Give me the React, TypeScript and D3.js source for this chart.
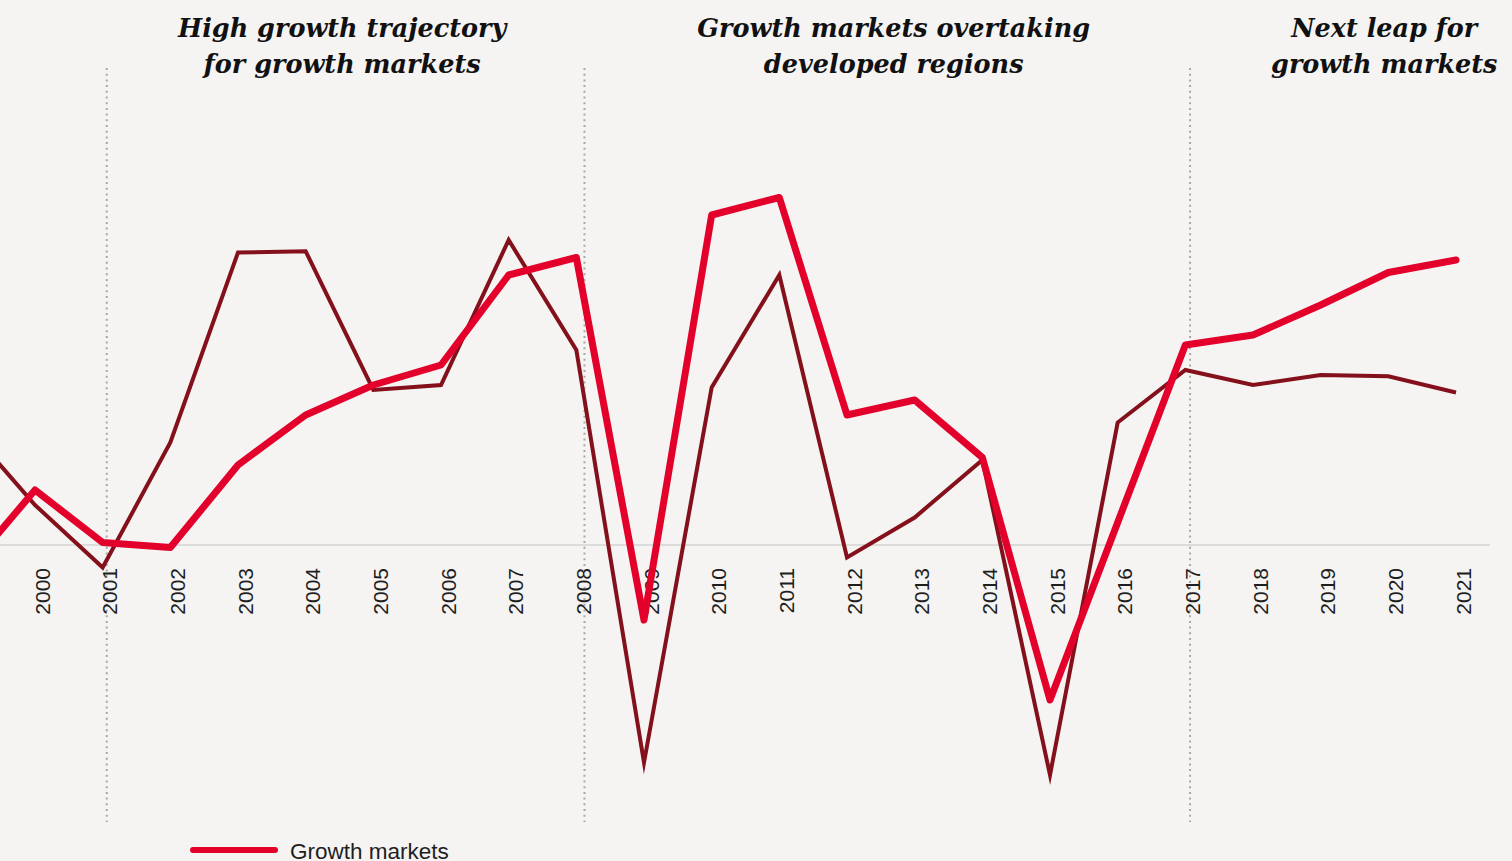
import React from "react";
import * as d3 from "d3";

const years = [1999, 2000, 2001, 2002, 2003, 2004, 2005, 2006, 2007, 2008, 2009, 2010, 2011, 2012, 2013, 2014, 2015, 2016, 2017, 2018, 2019, 2020, 2021];
const growthMarkets = [-1.0, 2.2, 0.1, -0.1, 3.2, 5.2, 6.4, 7.2, 10.8, 11.5, -3.0, 13.2, 13.9, 5.2, 5.8, 3.5, -6.2, 0.9, 8.0, 8.4, 9.6, 10.9, 11.4];
const developedMarkets = [4.7, 1.6, -0.9, 4.1, 11.7, 11.75, 6.2, 6.4, 12.2, 7.8, -8.7, 6.3, 10.8, -0.5, 1.1, 3.4, -9.2, 4.9, 7.0, 6.4, 6.8, 6.75, 6.1];
const tickYears = [2000, 2001, 2002, 2003, 2004, 2005, 2006, 2007, 2008, 2009, 2010, 2011, 2012, 2013, 2014, 2015, 2016, 2017, 2018, 2019, 2020, 2021];
const dividerYears = [2001.06, 2008.12, 2017.07];
const phaseTitles = [
  { center: 2004.54, lines: ["High growth trajectory", "for growth markets"] },
  { center: 2012.69, lines: ["Growth markets overtaking", "developed regions"] },
  { center: 2019.94, lines: ["Next leap for", "growth markets"] },
];
const legendLabels = ["Growth markets"];

const W = 1512;
const H = 861;
const BG = "#f5f4f2";
const RED = "#e3002b";
const DARK = "#84101b";

export default function App() {
  const x = d3.scaleLinear().domain([2000, 2021]).range([35, 1456]);
  const y = d3.scaleLinear().domain([0, 10]).range([545, 295]);

  const line = d3
    .line<number>()
    .x((_, i) => x(years[i]))
    .y((d) => y(d));

  return (
    <div style={{ position: "fixed", left: 0, top: 0, width: W, height: H, background: BG }}>
      <svg width={W} height={H} style={{ display: "block" }}>
        <rect x={0} y={0} width={W} height={H} fill={BG} />
        {/* zero line */}
        <line x1={0} x2={1490} y1={y(0)} y2={y(0)} stroke="#dedcda" strokeWidth={2} />
        {/* dividers */}
        {dividerYears.map((d) => (
          <line
            key={d}
            x1={x(d)}
            x2={x(d)}
            y1={68}
            y2={822}
            stroke="#a9a7a5"
            strokeWidth={2}
            strokeDasharray="2 3.7"
          />
        ))}
        {/* year labels */}
        {tickYears.map((yr) => (
          <text
            key={yr}
            transform={`translate(${x(yr) + 7},${568}) rotate(-90)`}
            textAnchor="end"
            dy="0.36em"
            fontFamily="'Liberation Sans', Arial, sans-serif"
            fontSize={21}
            fill="#1e1e1e"
          >
            {yr}
          </text>
        ))}
        {/* lines */}
        <path
          d={line(developedMarkets) || ""}
          fill="none"
          stroke={DARK}
          strokeWidth={4}
          strokeLinejoin="miter"
          strokeMiterlimit={6}
        />
        <path
          d={line(growthMarkets) || ""}
          fill="none"
          stroke={RED}
          strokeWidth={7}
          strokeLinejoin="round"
          strokeLinecap="round"
        />
        {/* titles */}
        {phaseTitles.map((t) => (
          <text
            key={t.lines[0]}
            x={x(t.center)}
            y={37}
            textAnchor="middle"
            fontFamily="'DejaVu Serif', serif"
            fontStyle="italic"
            fontWeight="bold"
            fontSize={25.5}
            fill="#111"
          >
            {t.lines.map((l, i) => (
              <tspan key={l} x={x(t.center)} dy={i === 0 ? 0 : 36}>
                {l}
              </tspan>
            ))}
          </text>
        ))}
        {/* legend */}
        {legendLabels.map((l) => (
          <g key={l}>
            <line x1={193} x2={275} y1={850} y2={850} stroke={RED} strokeWidth={6} strokeLinecap="round" />
            <text x={290} y={859} fontFamily="'Liberation Sans', Arial, sans-serif" fontSize={22.5} fill="#1e1e1e">
              {l}
            </text>
          </g>
        ))}
      </svg>
    </div>
  );
}
